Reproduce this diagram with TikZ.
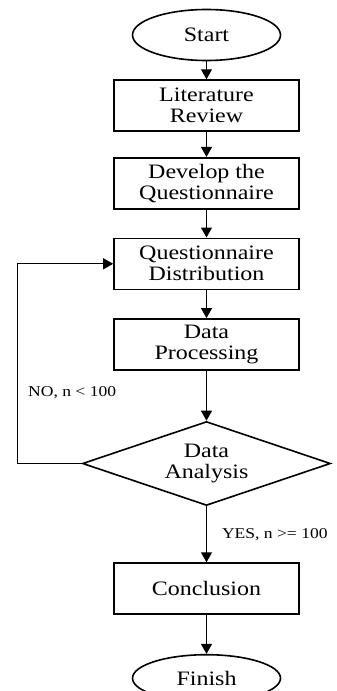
\documentclass[tikz,border=0pt]{standalone}
\usepackage{fontspec}
\setmainfont{Liberation Serif}[FakeStretch=1.17]
\usetikzlibrary{arrows.meta,positioning,shapes.geometric}

\begin{document}
\begin{tikzpicture}[
  x=1pt, y=1pt,
  node distance=25pt,
  box/.style={draw, line width=1.6pt, align=center, font=\fontsize{20.5}{21}\selectfont, minimum width=185pt, minimum height=51pt, inner sep=2pt},
  term/.style={box, ellipse, minimum width=148pt, minimum height=51pt},
  decide/.style={box, diamond, aspect=2.95, minimum width=248pt, minimum height=84pt, inner sep=0pt},
  lbl/.style={font=\fontsize{15}{17}\selectfont, inner sep=0pt},
  conn/.style={line width=1pt},
  >={Triangle[length=10pt,width=11pt]}
]
\useasboundingbox (0,0) rectangle (337,-691);

\node[term] (start) at (206.5,-35) {Start};
\node[box, below=18pt of start] (lit) {Literature\\Review};
\node[box, below=of lit] (dev) {Develop the\\Questionnaire};
\node[box, below=28pt of dev] (dist) {Questionnaire\\Distribution};
\node[box, below=28pt of dist] (proc) {Data\\Processing};
\node[decide, below=50pt of proc] (ana) {Data\\Analysis};
\node[box, below=56pt of ana] (concl) {Conclusion};
\node[term, below=39pt of concl, minimum height=47pt] (finish) {Finish};

% loop back when the sample is too small
\coordinate[left=64pt of ana.west] (back);
\node[lbl, anchor=west] (no) at (28,-393) {NO, n < 100};

\draw[conn,->] (start) -- (lit);
\draw[conn,->] (lit) -- (dev);
\draw[conn,->] (dev) -- (dist);
\draw[conn,->] (dist) -- (proc);
\draw[conn,->] (proc) -- (ana);
\draw[conn,->] (ana.west) -- (back) |- (dist.west);
\draw[conn,->] (ana) -- node[lbl, right=15pt] (yes) {YES, n >= 100} (concl);
\draw[conn,->] (concl) -- (finish);
\end{tikzpicture}
\end{document}
